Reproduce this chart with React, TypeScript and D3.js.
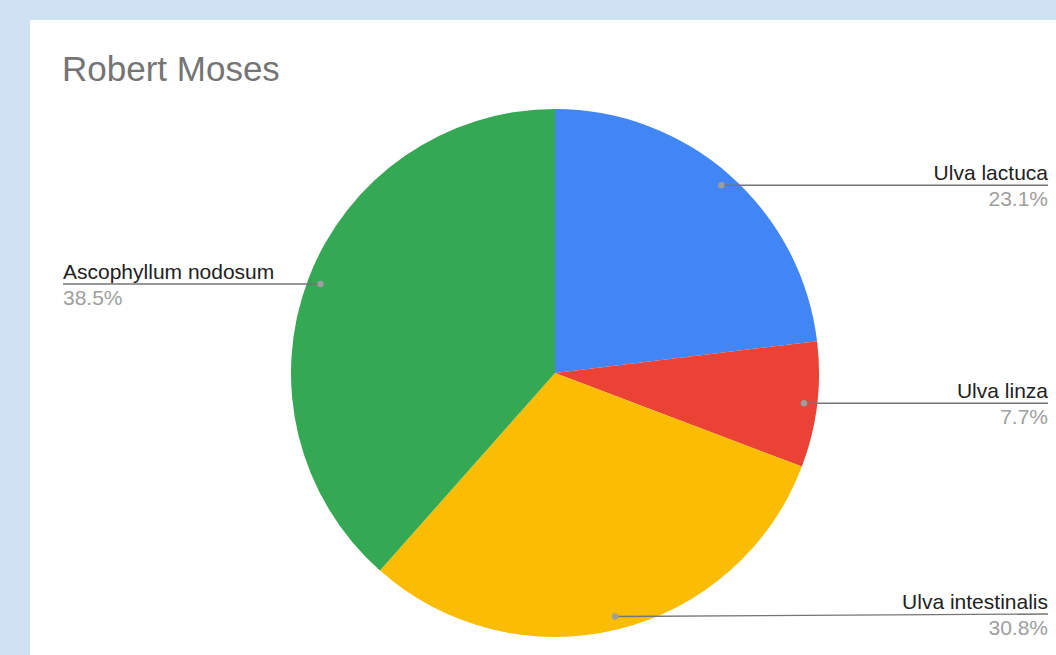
import React from "react";
import * as d3 from "d3";

const categories = ["Ulva lactuca", "Ulva linza", "Ulva intestinalis", "Ascophyllum nodosum"];
const values = [3, 1, 4, 5];
const colors = ["#4285f4", "#ea4335", "#fbbc04", "#34a853"];
const title = "Robert Moses";

const W = 1056;
const H = 655;
const cx = 555;
const cy = 373;
const R = 264;

export default function App() {
  const total = d3.sum(values);
  const pie = d3.pie<number>().sort(null).value((d) => d)(values);
  const arc = d3.arc<d3.PieArcDatum<number>>().innerRadius(0).outerRadius(R);
  const fmt = (v: number) => ((v / total) * 100).toFixed(1) + "%";

  return (
    <svg
      width={W}
      height={H}
      style={{ position: "absolute", left: 0, top: 0 }}
      fontFamily="'Liberation Sans', Arial, sans-serif"
    >
      <rect x={0} y={0} width={W} height={H} fill="#cfe2f3" />
      <rect x={30} y={20} width={W - 30} height={H - 20} fill="#ffffff" />
      <text x={62} y={81} fontSize={35} fill="#757575">
        {title}
      </text>
      <g transform={`translate(${cx},${cy})`}>
        {pie.map((p, i) => (
          <path key={i} d={arc(p) || ""} fill={colors[i]} />
        ))}
      </g>
      {pie.map((p, i) => {
        const mid = (p.startAngle + p.endAngle) / 2;
        const dx = cx + Math.sin(mid) * R * 0.95;
        const dy = cy - Math.cos(mid) * R * 0.95;
        const right = Math.sin(mid) > 0;
        const lx = right ? 1048 : 63;
        const ly = i === 2 ? Math.min(dy, 614) : dy;
        const anchor = right ? "end" : "start";
        return (
          <g key={"l" + i}>
            <line x1={dx} y1={dy} x2={lx} y2={ly} stroke="#757575" strokeWidth={1.4} />
            <circle cx={dx} cy={dy} r={3.2} fill="#9e9e9e" />
            <text x={lx} y={ly - 5} fontSize={21} fill="#222222" textAnchor={anchor}>
              {categories[i]}
            </text>
            <text x={lx} y={ly + 21} fontSize={21} fill="#9e9e9e" textAnchor={anchor}>
              {fmt(values[i])}
            </text>
          </g>
        );
      })}
    </svg>
  );
}
